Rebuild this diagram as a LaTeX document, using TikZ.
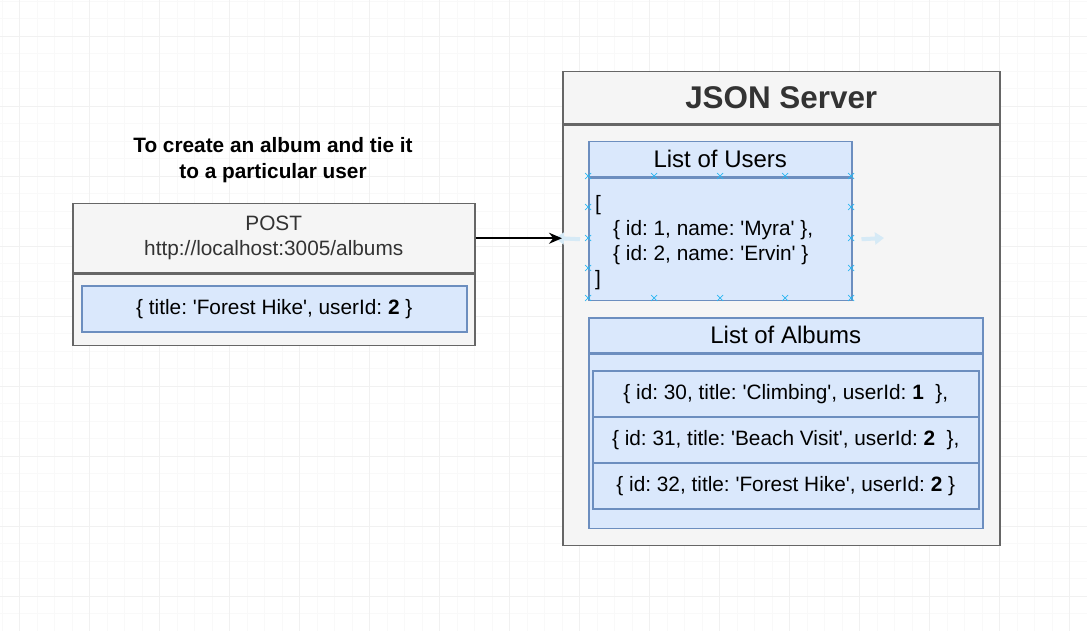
\documentclass[tikz,border=0pt]{standalone}
\usepackage{fontspec}
\setmainfont{Liberation Sans}
\usetikzlibrary{arrows.meta}
\definecolor{boxfill}{HTML}{F5F5F5}
\definecolor{boxline}{HTML}{666666}
\definecolor{bluefill}{HTML}{DAE8FC}
\definecolor{blueline}{HTML}{6C8EBF}
\definecolor{darktext}{HTML}{333333}
\definecolor{hintblue}{HTML}{29B6F2}
\definecolor{hintfaint}{HTML}{D6EAF6}
\newcommand{\q}{\textquotesingle}
\frenchspacing
\begin{document}
\begin{tikzpicture}[x=1pt,y=-1pt,>=Stealth,
    graybox/.style={draw=boxline,fill=boxfill,line width=1.5pt,inner sep=0pt},
    bluebox/.style={draw=blueline,fill=bluefill,line width=1.5pt,inner sep=0pt},
    body/.style={font=\fontsize{20.8}{25}\selectfont},
    heading/.style={font=\fontsize{24}{28}\selectfont}]
    \useasboundingbox (0,0) rectangle (1087,631);
    \fill[white] (0,0) rectangle (1087,631);
    % grid
    \foreach \x in {2,19.5,...,1090} \draw[gray!5,line width=0.8pt] (\x,0) -- (\x,631);
    \foreach \y in {1,18.5,...,635} \draw[gray!5,line width=0.8pt] (0,\y) -- (1087,\y);
    \foreach \x in {19.5,89.5,...,1090} \draw[gray!11,line width=0.8pt] (\x,0) -- (\x,631);
    \foreach \y in {36,106,...,635} \draw[gray!11,line width=0.8pt] (0,\y) -- (1087,\y);

    \node[align=center,font=\fontsize{20.8}{26}\selectfont\bfseries] (task) at (273,160)
      {To create an album and tie it\\to a particular user};

    % request
    \node[graybox,anchor=north west,minimum width=402pt,minimum height=69pt,body,
      text=darktext,align=center] (posthead) at (72,203) {POST\\http://localhost:3005/albums};
    \node[graybox,anchor=north,minimum width=402pt,minimum height=71pt] (postbody) at (posthead.south) {};
    \node[bluebox,anchor=north west,minimum width=385pt,minimum height=46pt,body] (payload) at (81,285)
      {\{ title: \q Forest Hike\q, userId: \textbf{2} \}};

    % server
    \node[graybox,anchor=north west,minimum width=437pt,minimum height=52pt,text=darktext,
      font=\fontsize{31.4}{36}\selectfont\bfseries] (serverhead) at (562,71) {JSON Server};
    \node[graybox,anchor=north,minimum width=437pt,minimum height=420pt] (serverbody) at (serverhead.south) {};

    \node[bluebox,anchor=north west,minimum width=263pt,minimum height=35pt,heading] (usershead) at (588,141) {List of Users};
    \node[bluebox,anchor=north,minimum width=263pt,minimum height=122pt] (usersbody) at (usershead.south) {};
    \node[anchor=west,align=left,body,inner sep=0pt] (userslist) at (595,243)
      {[\\\hspace*{18pt}\{ id: 1, name: \q Myra\q\ \},\\\hspace*{18pt}\{ id: 2, name: \q Ervin\q\ \}\\]};

    \node[bluebox,anchor=north west,minimum width=394pt,minimum height=35pt,heading] (albumshead) at (588,317) {List of Albums};
    \node[bluebox,anchor=north,minimum width=394pt,minimum height=174pt] (albumsbody) at (albumshead.south) {};
    \node[bluebox,anchor=north west,minimum width=386pt,minimum height=46pt,body] (album1) at (592,370)
      {\{ id: 30, title: \q Climbing\q, userId: \textbf{1}\hspace{0.55em}\},};
    \node[bluebox,anchor=north west,minimum width=386pt,minimum height=46pt,body] (album2) at (592,416)
      {\{ id: 31, title: \q Beach Visit\q, userId: \textbf{2}\hspace{0.55em}\},};
    \node[bluebox,anchor=north west,minimum width=386pt,minimum height=46pt,body] (album3) at (592,462)
      {\{ id: 32, title: \q Forest Hike\q, userId: \textbf{2} \}};

    % hover marks
    \coordinate (hintleft) at (555,238);
    \coordinate (hintright) at (884,238);
    \draw[hintfaint,line width=4pt,-{Triangle[length=9pt,width=12pt]}] (usersbody.west) ++(-8,0) -- (hintleft);
    \draw[hintfaint,line width=4pt,-{Triangle[length=9pt,width=12pt]}] (usersbody.east) ++(9,0) -- (hintright);
    \foreach \x in {588,654,720,785,851}
      \foreach \y in {176,298}
        \draw[hintblue,line width=0.7pt] (\x-3,\y-3) -- (\x+3,\y+3) (\x-3,\y+3) -- (\x+3,\y-3);
    \foreach \x in {588,851}
      \foreach \y in {207,238,268}
        \draw[hintblue,line width=0.7pt] (\x-3,\y-3) -- (\x+3,\y+3) (\x-3,\y+3) -- (\x+3,\y-3);

    \draw[-{Stealth[length=13pt,width=11pt]},line width=1.5pt] (posthead.east) -- (posthead.east -| serverbody.west);
\end{tikzpicture}
\end{document}
